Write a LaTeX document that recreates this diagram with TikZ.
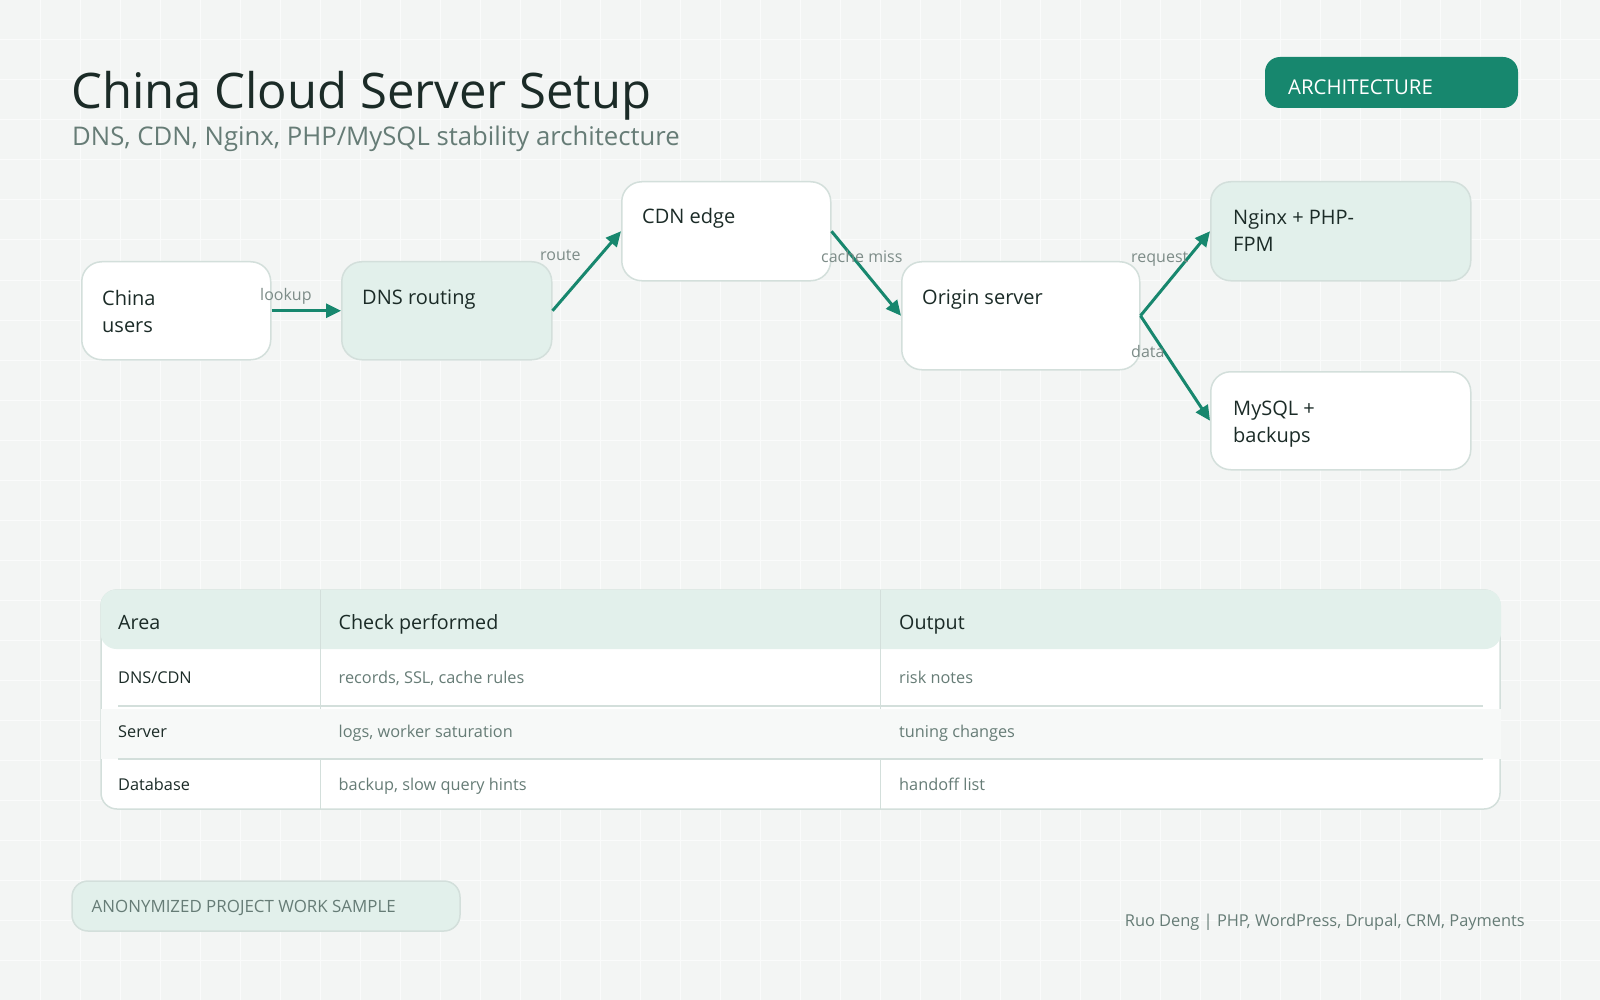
\documentclass[tikz,border=0pt]{standalone}
\usepackage{fontspec}
\setmainfont{Open Sans}
\usetikzlibrary{arrows.meta,positioning}

\definecolor{bgpaper}{HTML}{F3F5F4}
\definecolor{flowteal}{HTML}{17876E}
\definecolor{mint}{HTML}{E2F0EB}
\definecolor{edgegray}{HTML}{D3DFDB}
\definecolor{inkdark}{HTML}{1B2B27}
\definecolor{inkgray}{HTML}{667C76}
\definecolor{labelgray}{HTML}{7D8C88}
\definecolor{rowtint}{HTML}{F7F9F8}
\definecolor{gridline}{HTML}{FAFBFB}

\tikzset{
  flowbox/.style={draw=edgegray, line width=1.5pt, rounded corners=20pt, fill=white,
    anchor=north west, inner sep=0pt},
  mintbox/.style={flowbox, fill=mint},
  boxtext/.style={anchor=base west, align=left, inner sep=0pt,
    font=\fontsize{20}{27}\selectfont, text=inkdark},
  flow/.style={-{Triangle[length=15pt,width=14pt]}, line width=3pt, draw=flowteal},
  flowlabel/.style={anchor=base west, inner sep=0pt, font=\fontsize{16}{16}\selectfont, text=labelgray},
  cellhead/.style={anchor=base west, inner sep=0pt, font=\fontsize{19.7}{20}\selectfont, text=inkdark},
  cellkey/.style={anchor=base west, inner sep=0pt, font=\fontsize{16.3}{16}\selectfont, text=inkdark},
  cellval/.style={anchor=base west, inner sep=0pt, font=\fontsize{16.3}{16}\selectfont, text=inkgray}
}

\begin{document}
\begin{tikzpicture}[x=1pt, y=-1pt]
    % Paper and grid
    \useasboundingbox (0,0) rectangle (1600,1000);
    \fill[bgpaper] (0,0) rectangle (1600,1000);
    \foreach \gx in {40,80,...,1560}
        \draw[gridline, line width=1pt] (\gx,0) -- (\gx,1000);
    \foreach \gy in {40,80,...,960}
        \draw[gridline, line width=1pt] (0,\gy) -- (1600,\gy);

    % Title
    \node[anchor=base west, inner sep=0pt, font=\fontsize{49}{49}\selectfont, text=inkdark]
        (title) at (71,109) {China Cloud Server Setup};
    \node[anchor=base west, inner sep=0pt, font=\fontsize{25.7}{25.7}\selectfont, text=inkgray]
        (subtitle) at (72,146) {DNS, CDN, Nginx, PHP/MySQL stability architecture};

    % Badge
    \fill[flowteal, rounded corners=15pt] (1265,57) rectangle (1518,108);
    \node[anchor=base west, inner sep=0pt, font=\fontsize{20.4}{20.4}\selectfont, text=white]
        (badge) at (1288,95) {ARCHITECTURE};

    % Flow boxes
    \node[flowbox, minimum width=189pt, minimum height=98pt] (users) at (81,261) {};
    \node[mintbox, minimum width=210pt, minimum height=98pt] (dns) at (341,261) {};
    \node[flowbox, minimum width=209pt, minimum height=99pt] (cdn) at (621,181) {};
    \node[flowbox, minimum width=238pt, minimum height=108pt] (origin) at (901,261) {};
    \node[mintbox, minimum width=260pt, minimum height=99pt] (nginx) at (1210,181) {};
    \node[flowbox, minimum width=260pt, minimum height=98pt] (mysql) at (1210,371) {};

    \node[boxtext] (users-t) at ([shift={(21,71)}]users.north west) {China\\users};
    \node[boxtext] (dns-t) at ([shift={(21,44)}]dns.north west) {DNS routing};
    \node[boxtext] (cdn-t) at ([shift={(21,43)}]cdn.north west) {CDN edge};
    \node[boxtext] (origin-t) at ([shift={(21,44)}]origin.north west) {Origin server};
    \node[boxtext] (nginx-t) at ([shift={(23,71)}]nginx.north west) {Nginx + PHP-\\FPM};
    \node[boxtext] (mysql-t) at ([shift={(23,71)}]mysql.north west) {MySQL +\\backups};

    % Connectors
    \draw[flow] (users.east) -- (dns.west);
    \draw[flow] (dns.east) -- (cdn.west);
    \draw[flow] (cdn.east) -- (origin.west);
    \draw[flow] (origin.east) -- (nginx.west);
    \draw[flow] (origin.east) -- (mysql.west);

    \node[flowlabel] (lookup) at (260,301) {lookup};
    \node[flowlabel] (route) at (540,261) {route};
    \node[flowlabel] (miss) at (821,262) {cache miss};
    \node[flowlabel] (request) at (1131,262) {request};
    \node[flowlabel] (data) at (1131,357) {data};

    % Table
    \draw[edgegray, fill=white, line width=1.5pt, rounded corners=16pt] (101,590) rectangle (1500,809);
    \fill[mint, rounded corners=16pt] (100.5,589.5) rectangle (1501,649);
    \draw[edgegray, line width=1pt] (320.5,590) -- (320.5,809);
    \draw[edgegray, line width=1pt] (880.5,590) -- (880.5,809);
    \fill[rowtint] (100.5,709) rectangle (1501,759);
    \draw[edgegray, line width=1.2pt] (118,706) -- (1483,706);
    \draw[edgegray, line width=1.2pt] (118,759) -- (1483,759);

    \node[cellhead] (h-area) at (118,629) {Area};
    \node[cellhead] (h-check) at (338.5,629) {Check performed};
    \node[cellhead] (h-out) at (899,629) {Output};

    \node[cellkey] (r1-area) at (118,683) {DNS/CDN};
    \node[cellval] (r1-check) at (338.5,683) {records, SSL, cache rules};
    \node[cellval] (r1-out) at (899,683) {risk notes};
    \node[cellkey] (r2-area) at (118,737) {Server};
    \node[cellval] (r2-check) at (338.5,737) {logs, worker saturation};
    \node[cellval] (r2-out) at (899,737) {tuning changes};
    \node[cellkey] (r3-area) at (118,790) {Database};
    \node[cellval] (r3-check) at (338.5,790) {backup, slow query hints};
    \node[cellval] (r3-out) at (899,790) {handoff list};

    % Footer
    \draw[edgegray, fill=mint, line width=1.5pt, rounded corners=16pt] (72,881) rectangle (460,931);
    \node[anchor=base west, inner sep=0pt, font=\fontsize{16.9}{16.9}\selectfont, text=inkgray]
        (sample) at (91.5,912) {ANONYMIZED PROJECT WORK SAMPLE};
    \node[anchor=base east, inner sep=0pt, font=\fontsize{16.4}{16.4}\selectfont, text=inkgray]
        (credit) at (1525,926) {Ruo Deng | PHP, WordPress, Drupal, CRM, Payments};
\end{tikzpicture}
\end{document}
